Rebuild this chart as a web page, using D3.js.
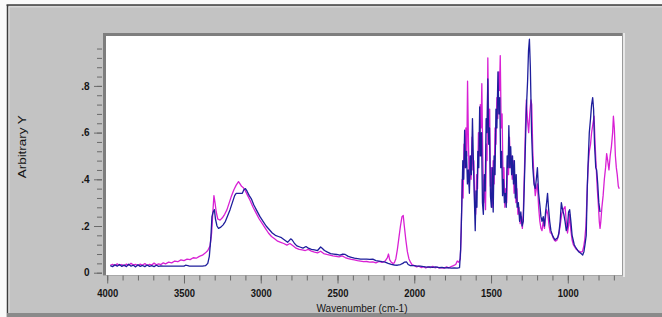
<!DOCTYPE html>
<html><head><meta charset="utf-8">
<script src="https://cdn.jsdelivr.net/npm/d3@7"></script>
<style>html,body{margin:0;padding:0;background:#fafafa;}svg{display:block;}</style>
</head><body>
<script>
// ---- data (wavenumber cm-1, arbitrary Y) ----
const magentaWn = [3980,3965,3950,3935,3920,3905,3890,3875,3860,3845,3830,3815,3800,3785,3770,3755,3740,3725,3710,3695,3680,3665,3650,3635,3620,3600,3580,3560,3540,3520,3500,3480,3460,3440,3420,3400,3380,3360,3345,3330,3320,3312,3305,3298,3290,3280,3265,3250,3235,3220,3205,3190,3175,3160,3145,3135,3125,3115,3100,3085,3070,3050,3030,3010,2990,2970,2950,2930,2910,2890,2870,2850,2830,2810,2790,2770,2750,2730,2710,2690,2670,2650,2630,2610,2590,2570,2550,2530,2510,2490,2470,2450,2430,2410,2390,2370,2350,2330,2310,2290,2270,2250,2230,2210,2190,2175,2168,2160,2150,2140,2130,2120,2110,2100,2090,2080,2072,2065,2055,2045,2035,2025,2015,2000,1985,1970,1955,1940,1925,1910,1895,1880,1865,1850,1835,1820,1805,1790,1775,1760,1745,1730,1720,1710,1700,
1694,1688,1682,1676,1670,1664,1658,1653,1647,1641,1636,1630,1624,1618,1612,1606,1600,1594,1588,1582,1576,1570,1565,1560,1554,1548,1542,1536,1530,1526,1521,1515,1509,1504,1498,1492,1486,1480,1474,1468,1462,1456,1450,1445,1440,1434,1428,1422,1416,1410,1404,1398,1392,1386,1380,1374,1368,1362,1356,1350,1344,1338,1332,1325,1318,1310,1302,1296,1290,
1282,1276,1270,1262,1255,1248,1240,1235,1228,1220,1212,1205,1198,1190,1182,1175,1168,1160,1152,1145,1138,1130,1122,1114,1105,1096,1088,1080,1070,1060,1050,1040,1030,1018,1010,1002,995,988,980,972,964,955,945,935,925,915,905,897,890,882,875,868,860,852,845,838,829,822,815,808,800,795,790,785,778,770,762,754,747,740,732,724,716,708,703,697,690,684,678,671,665];
const magentaY = [0.032,0.036,0.030,0.038,0.031,0.035,0.029,0.037,0.032,0.040,0.033,0.036,0.030,0.037,0.032,0.039,0.031,0.036,0.033,0.041,0.034,0.038,0.035,0.042,0.038,0.045,0.042,0.050,0.047,0.055,0.052,0.058,0.056,0.064,0.062,0.070,0.075,0.085,0.095,0.115,0.17,0.26,0.33,0.30,0.26,0.23,0.225,0.235,0.25,0.27,0.30,0.33,0.355,0.375,0.39,0.38,0.37,0.365,0.35,0.33,0.31,0.28,0.255,0.23,0.21,0.19,0.17,0.155,0.145,0.135,0.13,0.125,0.118,0.125,0.115,0.105,0.10,0.098,0.095,0.10,0.092,0.088,0.085,0.092,0.082,0.078,0.075,0.072,0.070,0.068,0.072,0.065,0.060,0.057,0.055,0.052,0.050,0.047,0.048,0.045,0.046,0.042,0.048,0.044,0.050,0.065,0.080,0.055,0.045,0.040,0.042,0.060,0.100,0.150,0.200,0.240,0.245,0.20,0.14,0.09,0.06,0.045,0.035,0.030,0.025,0.028,0.022,0.026,0.020,0.025,0.022,0.027,0.021,0.024,0.020,0.022,0.019,0.025,0.021,0.026,0.030,0.035,0.050,0.045,0.060,
0.18,0.40,0.32,0.55,0.45,0.62,0.50,0.82,0.55,0.37,0.50,0.40,0.58,0.44,0.48,0.28,0.25,0.42,0.36,0.60,0.50,0.72,0.62,0.81,0.50,0.30,0.40,0.27,0.55,0.48,0.92,0.62,0.70,0.37,0.45,0.28,0.48,0.38,0.62,0.55,0.75,0.66,0.86,0.78,0.93,0.62,0.68,0.40,0.45,0.28,0.36,0.30,0.48,0.42,0.58,0.45,0.50,0.40,0.48,0.34,0.42,0.30,0.36,0.25,0.28,0.21,0.24,0.19,0.25,
0.45,0.62,0.74,0.65,0.60,0.68,0.74,0.72,0.52,0.40,0.33,0.36,0.38,0.28,0.22,0.19,0.18,0.22,0.19,0.24,0.27,0.25,0.20,0.17,0.168,0.15,0.14,0.135,0.14,0.16,0.20,0.25,0.27,0.283,0.22,0.17,0.20,0.25,0.18,0.14,0.12,0.11,0.10,0.095,0.092,0.088,0.09,0.11,0.14,0.20,0.33,0.45,0.52,0.55,0.60,0.63,0.67,0.55,0.45,0.36,0.28,0.22,0.19,0.22,0.28,0.33,0.40,0.45,0.51,0.48,0.44,0.50,0.54,0.60,0.67,0.62,0.50,0.45,0.42,0.37,0.36];

const navyWn = [3980,3965,3950,3935,3920,3905,3890,3875,3860,3845,3830,3815,3800,3785,3770,3755,3740,3725,3710,3695,3680,3665,3650,3635,3620,3500,3490,3475,3465,3380,3360,3345,3335,3325,3318,3310,3302,3295,3285,3275,3260,3245,3230,3215,3200,3185,3170,3160,3150,3120,3110,3100,3090,3075,3060,3045,3025,3005,2985,2965,2945,2925,2905,2885,2865,2845,2825,2805,2795,2780,2765,2745,2725,2705,2690,2670,2650,2630,2610,2600,2585,2565,2545,2525,2505,2485,2465,2450,2430,2410,2390,2370,2350,2330,2310,2290,2270,2250,2230,2210,2190,2170,2150,2130,2110,2090,2075,2065,2050,2040,2025,2000,1980,1960,1940,1920,1900,1880,1860,1840,1820,1800,1780,1760,1740,1720,1705,1698,1690,
1684,1678,1672,1666,1660,1654,1648,1641,1635,1628,1621,1614,1608,1603,1598,1592,1586,1580,1574,1568,1562,1556,1550,1544,1538,1532,1526,1521,1515,1510,1504,1498,1492,1486,1480,1474,1468,1462,1455,1449,1443,1437,1431,1425,1419,1413,1407,1401,1395,1389,1384,1378,1372,1366,1360,1354,1348,1342,1336,1330,1322,1314,1306,1298,1290,1284,
1278,1270,1262,1256,1250,1244,1236,1228,1220,1212,1205,1198,1190,1182,1175,1168,1160,1152,1145,1138,1132,1126,1118,1110,1100,1092,1083,1075,1066,1058,1050,1042,1034,1026,1018,1010,1002,995,988,980,972,965,958,950,940,930,920,910,903,895,888,880,873,866,860,852,845,838,832,826,818,812,805,798,790];
const navyY = [0.030,0.026,0.034,0.028,0.035,0.027,0.033,0.026,0.036,0.028,0.032,0.025,0.034,0.027,0.031,0.026,0.033,0.027,0.030,0.026,0.032,0.027,0.029,0.028,0.028,0.028,0.032,0.030,0.028,0.028,0.030,0.040,0.070,0.15,0.24,0.26,0.27,0.23,0.20,0.19,0.195,0.205,0.22,0.245,0.27,0.30,0.33,0.34,0.34,0.34,0.355,0.36,0.35,0.33,0.315,0.29,0.265,0.24,0.22,0.20,0.185,0.17,0.16,0.155,0.15,0.14,0.13,0.145,0.14,0.125,0.115,0.11,0.105,0.112,0.105,0.10,0.098,0.095,0.11,0.105,0.095,0.088,0.082,0.080,0.078,0.075,0.080,0.078,0.070,0.066,0.062,0.060,0.058,0.058,0.058,0.057,0.058,0.052,0.050,0.047,0.045,0.040,0.036,0.033,0.032,0.035,0.040,0.045,0.046,0.035,0.030,0.030,0.028,0.028,0.026,0.024,0.025,0.023,0.025,0.022,0.023,0.021,0.022,0.020,0.021,0.020,0.022,0.10,0.30,
0.48,0.40,0.61,0.45,0.52,0.38,0.44,0.34,0.50,0.42,0.66,0.45,0.30,0.18,0.35,0.28,0.52,0.45,0.71,0.50,0.60,0.30,0.25,0.42,0.35,0.66,0.60,0.83,0.55,0.62,0.33,0.28,0.45,0.26,0.50,0.42,0.70,0.62,0.86,0.68,0.75,0.45,0.52,0.33,0.40,0.30,0.34,0.28,0.50,0.45,0.63,0.45,0.54,0.42,0.50,0.38,0.48,0.32,0.42,0.28,0.30,0.22,0.26,0.20,0.22,0.36,
0.50,0.70,0.82,0.95,1.00,0.88,0.60,0.45,0.38,0.36,0.40,0.45,0.34,0.29,0.24,0.22,0.24,0.20,0.26,0.30,0.34,0.28,0.22,0.18,0.16,0.15,0.14,0.145,0.15,0.17,0.22,0.30,0.27,0.25,0.22,0.18,0.20,0.26,0.27,0.22,0.16,0.14,0.12,0.11,0.10,0.09,0.085,0.08,0.076,0.09,0.12,0.16,0.37,0.50,0.60,0.66,0.72,0.75,0.70,0.55,0.45,0.44,0.38,0.30,0.26];

const xMajorTicks = [4000,3500,3000,2500,2000,1500,1000];
const xTickLabels = ["4000","3500","3000","2500","2000","1500","1000"];
const yMajorTicks = [0,0.2,0.4,0.6,0.8];
const yTickLabels = ["0",".2",".4",".6",".8"];

// ---- drawing ----
const W = 662, H = 317;
const svg = d3.select("body").append("svg").attr("width", W).attr("height", H);

// outer window frame
svg.append("rect").attr("x",0).attr("y",0).attr("width",W).attr("height",H).attr("fill","#fafafa");
svg.append("rect").attr("x",7).attr("y",5).attr("width",W-7).attr("height",H-5).attr("fill","#c3c3c3");
svg.append("line").attr("x1",6.5).attr("x2",W).attr("y1",5).attr("y2",5).attr("stroke","#3c3c3c").attr("stroke-width",1.5);
svg.append("line").attr("x1",7.5).attr("x2",7.5).attr("y1",5).attr("y2",H).attr("stroke","#3c3c3c").attr("stroke-width",1.5);
svg.append("line").attr("x1",9).attr("x2",W).attr("y1",6.8).attr("y2",6.8).attr("stroke","#e2e2e2").attr("stroke-width",1);
svg.append("line").attr("x1",9).attr("x2",9).attr("y1",6.5).attr("y2",H).attr("stroke","#e2e2e2").attr("stroke-width",1);
svg.append("rect").attr("x",7).attr("y",313).attr("width",W-7).attr("height",4).attr("fill","#8a8a8a");

// plot area (sunken bevel)
const pl = 106, pr = 622, pt = 36, pb = 275;
svg.append("rect").attr("x",pl-3).attr("y",pt-3).attr("width",pr-pl+3).attr("height",3).attr("fill","#7e7e7e");
svg.append("rect").attr("x",pl-3).attr("y",pt-3).attr("width",3).attr("height",pb-pt+3).attr("fill","#7e7e7e");
svg.append("rect").attr("x",pl).attr("y",pt).attr("width",pr-pl).attr("height",pb-pt).attr("fill","#ffffff");
svg.append("line").attr("x1",pr+0.5).attr("x2",pr+0.5).attr("y1",pt-3).attr("y2",pb+1).attr("stroke","#9a9a9a");
svg.append("line").attr("x1",pr+2).attr("x2",pr+2).attr("y1",pt-3).attr("y2",pb+2).attr("stroke","#f4f4f4").attr("stroke-width",1.5);
svg.append("line").attr("x1",pl-3).attr("x2",pr+1).attr("y1",pb+0.5).attr("y2",pb+0.5).attr("stroke","#a8a8a8");

const x = d3.scaleLinear().domain([4008, 647]).range([pl, pr]);
const y = d3.scaleLinear().domain([0, 1]).range([272.7, 39.2]);

// y axis
const yAxisX = 102;
const yMinor = svg.append("g").attr("transform",`translate(${yAxisX},0)`)
  .call(d3.axisLeft(y).tickValues(d3.range(0, 0.97, 0.04)).tickSize(5).tickFormat(""));
const yMajor = svg.append("g").attr("transform",`translate(${yAxisX},0)`)
  .call(d3.axisLeft(y).tickValues(yMajorTicks).tickSize(8).tickPadding(4.5)
    .tickFormat((d,i) => yTickLabels[i]));
[yMinor, yMajor].forEach(g => {
  g.select(".domain").remove();
  g.selectAll(".tick line").attr("stroke","#6a6a6a");
});
yMajor.selectAll(".tick text").attr("font-family","Liberation Sans, Arial, sans-serif")
  .attr("font-size",10).attr("font-weight","bold").attr("fill","#151515");

// x axis
const xMinor = svg.append("g").attr("transform",`translate(0,${pb+0.5})`)
  .call(d3.axisBottom(x).tickValues(d3.range(4000, 699, -100)).tickSize(5).tickFormat(""));
const xMajor = svg.append("g").attr("transform",`translate(0,${pb+0.5})`)
  .call(d3.axisBottom(x).tickValues(xMajorTicks).tickSize(8).tickPadding(6)
    .tickFormat((d,i) => xTickLabels[i]));
[xMinor, xMajor].forEach(g => {
  g.select(".domain").remove();
  g.selectAll(".tick line").attr("stroke","#6a6a6a");
});
xMajor.selectAll(".tick text").attr("font-family","Liberation Sans, Arial, sans-serif")
  .attr("font-size",11).attr("font-weight","bold").attr("fill","#151515")
  .attr("textLength",21).attr("lengthAdjust","spacingAndGlyphs");

// titles
svg.append("text").attr("x",362).attr("y",312).attr("text-anchor","middle")
  .attr("font-family","Liberation Sans, Arial, sans-serif").attr("font-size",10).attr("fill","#151515")
  .attr("textLength",91).attr("lengthAdjust","spacingAndGlyphs").text("Wavenumber (cm-1)");
svg.append("text").attr("transform","translate(25.5,146.7) rotate(-90)").attr("text-anchor","middle")
  .attr("font-family","Liberation Sans, Arial, sans-serif").attr("font-size",11).attr("fill","#151515")
  .attr("textLength",63).attr("lengthAdjust","spacingAndGlyphs").text("Arbitrary Y");

// spectra
svg.append("clipPath").attr("id","clip").append("rect")
  .attr("x",pl).attr("y",pt).attr("width",pr-pl).attr("height",pb-pt);
const line = d3.line().x(d => x(d[0])).y(d => y(d[1]));
const magenta = magentaWn.map((w,i) => [w, magentaY[i]]);
const navy = navyWn.map((w,i) => [w, navyY[i]]);
const gl = svg.append("g").attr("clip-path","url(#clip)");
gl.append("path").datum(magenta).attr("d",line).attr("fill","none")
  .attr("stroke","#d820d4").attr("stroke-width",1.3).attr("stroke-linejoin","round");
gl.append("path").datum(navy).attr("d",line).attr("fill","none")
  .attr("stroke","#1e1e9c").attr("stroke-width",1.3).attr("stroke-linejoin","round");
</script>
</body></html>
